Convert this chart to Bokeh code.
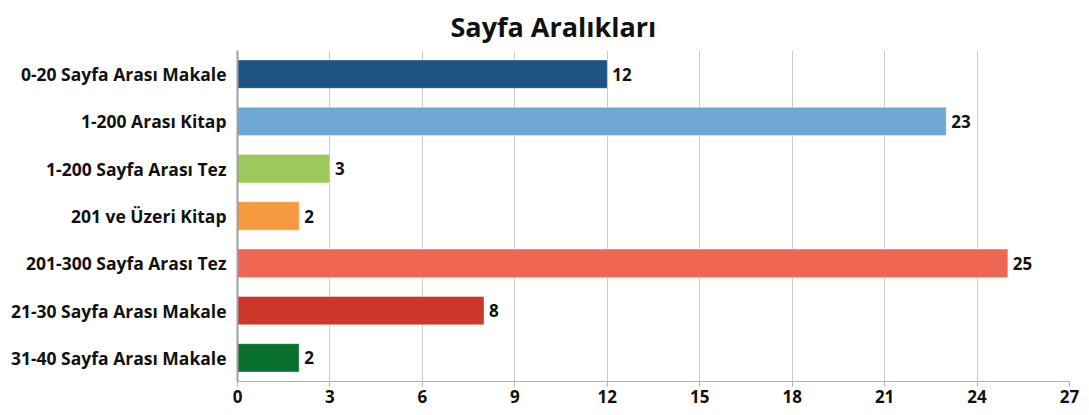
from bokeh.plotting import figure
from bokeh.models import ColumnDataSource, FactorRange, Range1d, FixedTicker
from bokeh.core.properties import value
from bokeh.embed import file_html
from bokeh.resources import INLINE

categories = ["0-20 Sayfa Arası Makale", "1-200 Arası Kitap", "1-200 Sayfa Arası Tez",
              "201 ve Üzeri Kitap", "201-300 Sayfa Arası Tez", "21-30 Sayfa Arası Makale",
              "31-40 Sayfa Arası Makale"]
counts = [12, 23, 3, 2, 25, 8, 2]
colors = ["#1e5482", "#6fa7d5", "#9cc85c", "#f5993f", "#ef6652", "#cb3829", "#09702f"]
x_ticks = [0, 3, 6, 9, 12, 15, 18, 21, 24, 27]

FONT = "Open Sans"

src = ColumnDataSource(dict(cat=categories, val=counts, color=colors,
                            lbl=[str(v) for v in counts]))

p = figure(width=1089, height=415, output_backend="svg", toolbar_location=None,
           y_range=FactorRange(factors=categories[::-1]), x_range=Range1d(0, 27),
           min_border_left=237, min_border_right=20, min_border_top=10,
           min_border_bottom=34, title="Sayfa Aralıkları")

p.title.text_font = FONT
p.title.text_font_size = "27px"
p.title.text_font_style = "bold"
p.title.align = "left"
p.title.text_color = "#111111"
p.title.offset = 213
p.title.standoff = 11

p.hbar(y="cat", right="val", left=0, height=0.6, fill_color="color",
       line_color="white", line_alpha=0.4, line_width=1, source=src)
p.text(x="val", y="cat", text="lbl", x_offset=5, text_baseline="middle",
       text_align="left", text_font=value(FONT), text_font_size="17px",
       text_font_style="bold", text_color="#111111", source=src)

p.xaxis.ticker = FixedTicker(ticks=x_ticks)
p.xaxis.axis_line_color = "#b0b0b0"
p.xaxis.major_tick_line_color = "#b0b0b0"
p.xaxis.major_tick_out = 5
p.xaxis.major_tick_in = 0
p.xaxis.minor_tick_line_color = None
p.xaxis.major_label_text_font = FONT
p.xaxis.major_label_text_font_size = "17px"
p.xaxis.major_label_text_font_style = "bold"
p.xaxis.major_label_text_color = "#111111"
p.xaxis.major_label_standoff = 3

p.yaxis.axis_line_color = "#a0a0a0"
p.yaxis.axis_line_width = 2
p.yaxis.major_tick_line_color = None
p.yaxis.minor_tick_line_color = None
p.yaxis.major_label_text_font = FONT
p.yaxis.major_label_text_font_size = "17.5px"
p.yaxis.major_label_text_font_style = "bold"
p.yaxis.major_label_text_color = "#111111"
p.yaxis.major_label_standoff = 5

p.xgrid.grid_line_color = "#cccccc"
p.xgrid.grid_line_width = 1
p.ygrid.grid_line_color = None
p.outline_line_color = None

open("out.html", "w").write(file_html(p, INLINE))
